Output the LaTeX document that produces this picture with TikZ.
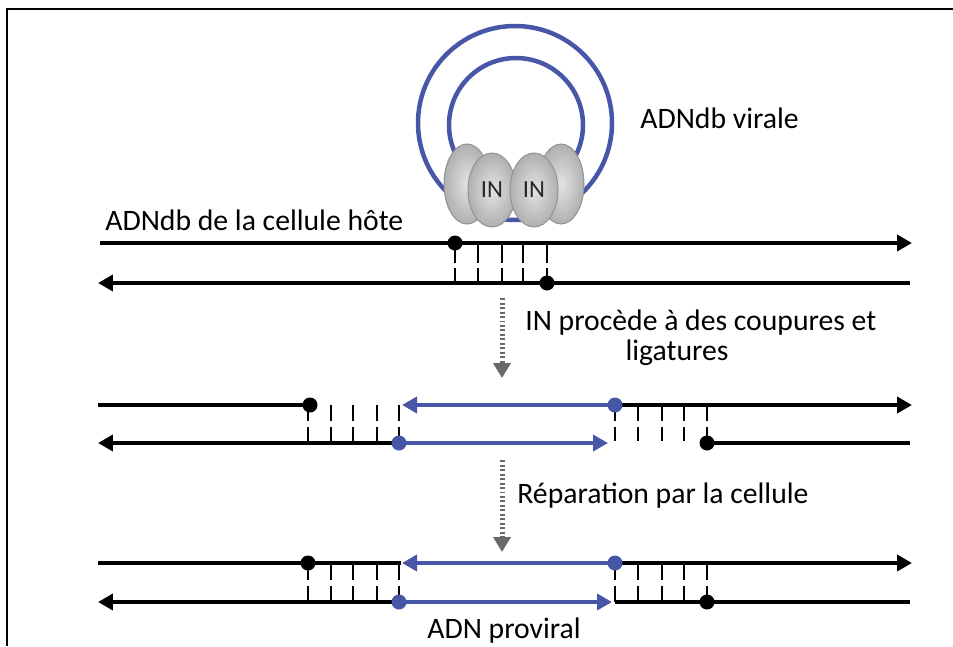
\documentclass[tikz,border=0pt]{standalone}
\usepackage{fontspec}
\setmainfont{Carlito}
\usetikzlibrary{arrows.meta}
\definecolor{viral}{RGB}{72,86,168}
\definecolor{stepgray}{RGB}{105,105,105}

\begin{document}
\begin{tikzpicture}[x=0.02cm,y=-0.02cm,
    host/.style={line width=0.08cm,black},
    vir/.style={line width=0.08cm,viral},
    tip/.style={-{Triangle[length=0.3cm,width=0.32cm]}},
    hbond/.style={line width=0.04cm},
    dot/.style={fill=black},
    vdot/.style={fill=viral},
    stepline/.style={line width=0.1cm,stepgray,dash pattern=on 0.04cm off 0.05cm,
        -{Triangle[length=0.3cm,width=0.34cm,fill=stepgray]}},
    integrase/.style={draw=gray!85,line width=0.02cm,shading=radial,
        inner color=gray!22,outer color=gray!62},
    lbl/.style={font=\fontsize{16.9}{20}\selectfont,inner sep=0pt}]
    \useasboundingbox (0,0) rectangle (953,646);
    \draw[line width=0.05cm] (7,646) -- (7,9) -- (953,9); % frame

    % viral ring and the integrase tetramer
    \draw[vir,line width=0.09cm] (515,123) circle (97);
    \draw[vir,line width=0.09cm] (516,125) circle (67);
    \shade[integrase] (467,184) ellipse (23 and 40);
    \shade[integrase] (561,184) ellipse (23 and 40);
    \shade[integrase] (492,190) ellipse (24 and 37);
    \shade[integrase] (534,190) ellipse (24 and 37);
    \node (in1) [font=\fontsize{14}{16}\selectfont,text=black!85] at (492,190) {IN};
    \node (in2) [font=\fontsize{14}{16}\selectfont,text=black!85] at (534,190) {IN};
    \node (viral) [lbl,anchor=base west] at (640,128) {ADNdb virale};

    % host DNA before integration
    \node (host) [lbl,anchor=base west] at (105,230) {ADNdb de la cellule hôte};
    \foreach \x in {455,478,502,523,547}
        \draw[hbond] (\x,243) -- (\x,263) (\x,268) -- (\x,283); % pairs
    \draw[host,tip] (100,243) -- (912,243); % top strand
    \draw[host,tip] (910,283) -- (98,283); % bottom strand
    \fill[dot] (455,243) circle (7.5);
    \fill[dot] (547,283) circle (7.5);

    % first step
    \coordinate (s1a) at (502,298);
    \coordinate (s1b) at (502,378);
    \draw[stepline] (s1a) -- (s1b);
    \node (cut) [lbl,anchor=base west] at (525,330) {IN procède à des coupures et};
    \node (lig) [lbl,anchor=base] at (677,360) {ligatures};

    % after cutting and joining
    \foreach \x in {308,331,353,377,399,615,638,662,684}
        \draw[hbond] (\x,405) -- (\x,421) (\x,427) -- (\x,441);
    \draw[hbond] (707,405) -- (707,421) (707,427) -- (707,443);
    \draw[host] (98,405) -- (310,405);
    \draw[host,tip] (615,405) -- (912,405);
    \draw[host,tip] (399,443) -- (98,443);
    \draw[host] (707,443) -- (910,443);
    \draw[vir,tip] (615,405) -- (402,405); % viral strands
    \draw[vir,tip] (399,443) -- (608,443);
    \fill[dot] (310,405) circle (7.5);
    \fill[dot] (707,443) circle (7.5);
    \fill[vdot] (615,405) circle (7.5);
    \fill[vdot] (399,443) circle (7.5);

    % second step
    \coordinate (s2a) at (502,460);
    \coordinate (s2b) at (502,552);
    \draw[stepline] (s2a) -- (s2b);
    \node (repair) [lbl,anchor=base west] at (517,503) {Réparation par la cellule};

    % repaired provirus
    \foreach \x in {308,331,353,377,399,615,638,662,684,707}
        \draw[hbond] (\x,563) -- (\x,580) (\x,586) -- (\x,602);
    \draw[host] (98,563) -- (401,563);
    \draw[host,tip] (615,563) -- (912,563);
    \draw[host,tip] (399,602) -- (98,602);
    \draw[host] (615,602) -- (910,602);
    \draw[vir,tip] (615,563) -- (402,563);
    \draw[vir,tip] (399,602) -- (612,602);
    \fill[dot] (308,563) circle (7.5);
    \fill[dot] (707,602) circle (7.5);
    \fill[vdot] (615,563) circle (7.5);
    \fill[vdot] (399,602) circle (7.5);
    \node (prov) [lbl,anchor=base west] at (427,638) {ADN proviral};
\end{tikzpicture}
\end{document}
